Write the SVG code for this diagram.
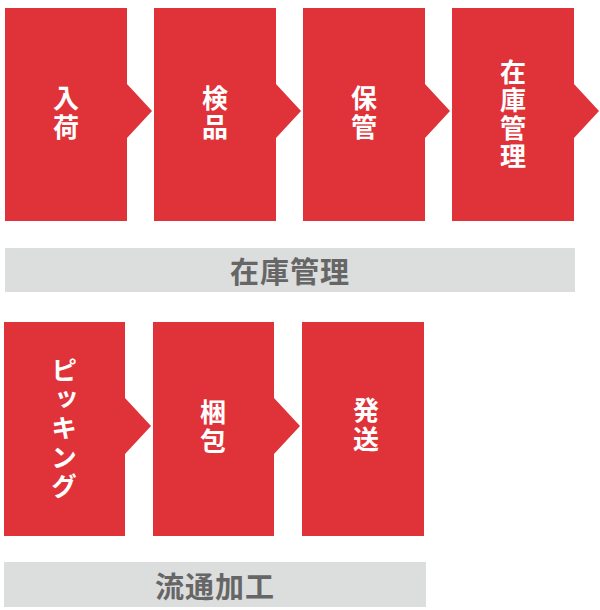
<svg xmlns="http://www.w3.org/2000/svg" width="600" height="610" viewBox="0 0 600 610">
<style>
.blk{fill:#df3339}
.bar{fill:#dcdddd}
.w{fill:#ffffff;font-family:"Noto Sans CJK JP","Noto Sans CJK SC",sans-serif;font-weight:700;font-size:26px;text-anchor:middle;writing-mode:vertical-rl;text-orientation:upright;letter-spacing:3px}
.g{fill:#666666;font-family:"Noto Sans CJK JP","Noto Sans CJK SC",sans-serif;font-weight:700;font-size:29px;letter-spacing:1px;text-anchor:middle;dominant-baseline:central}
</style>
<rect width="600" height="610" fill="#ffffff"/>
<g id="connectors"></g>
<g id="n1"><path class="blk" d="M5,8 H127 V84 L152,111 L127,138 V221 H5 Z"/>
<text class="w" x="66" y="114">入荷</text></g>
<g id="n2"><path class="blk" d="M154,8 H276 V84 L301,111 L276,138 V221 H154 Z"/>
<text class="w" x="215" y="114">検品</text></g>
<g id="n3"><path class="blk" d="M303,8 H425 V84 L450,111 L425,138 V221 H303 Z"/>
<text class="w" x="364" y="114">保管</text></g>
<g id="n4"><path class="blk" d="M452,8 H574 V84 L599,111 L574,138 V221 H452 Z"/>
<text class="w" x="513" y="115" style="letter-spacing:2px">在庫管理</text></g>
<g id="bar1"><rect class="bar" x="5" y="248" width="570" height="44"/>
<text class="g" x="290" y="270">在庫管理</text></g>
<g id="n5"><path class="blk" d="M4,322 H125 V398 L151,426 L125,454 V536 H4 Z"/>
<text class="w" x="64" y="430">ピッキング</text></g>
<g id="n6"><path class="blk" d="M153,322 H274 V398 L300,426 L274,454 V536 H153 Z"/>
<text class="w" x="213" y="428">梱包</text></g>
<g id="n7"><path class="blk" d="M302,322 H424 V536 H302 Z"/>
<text class="w" x="366" y="426">発送</text></g>
<g id="bar2"><rect class="bar" x="4" y="562" width="422" height="45"/>
<text class="g" x="215" y="585">流通加工</text></g>
</svg>
